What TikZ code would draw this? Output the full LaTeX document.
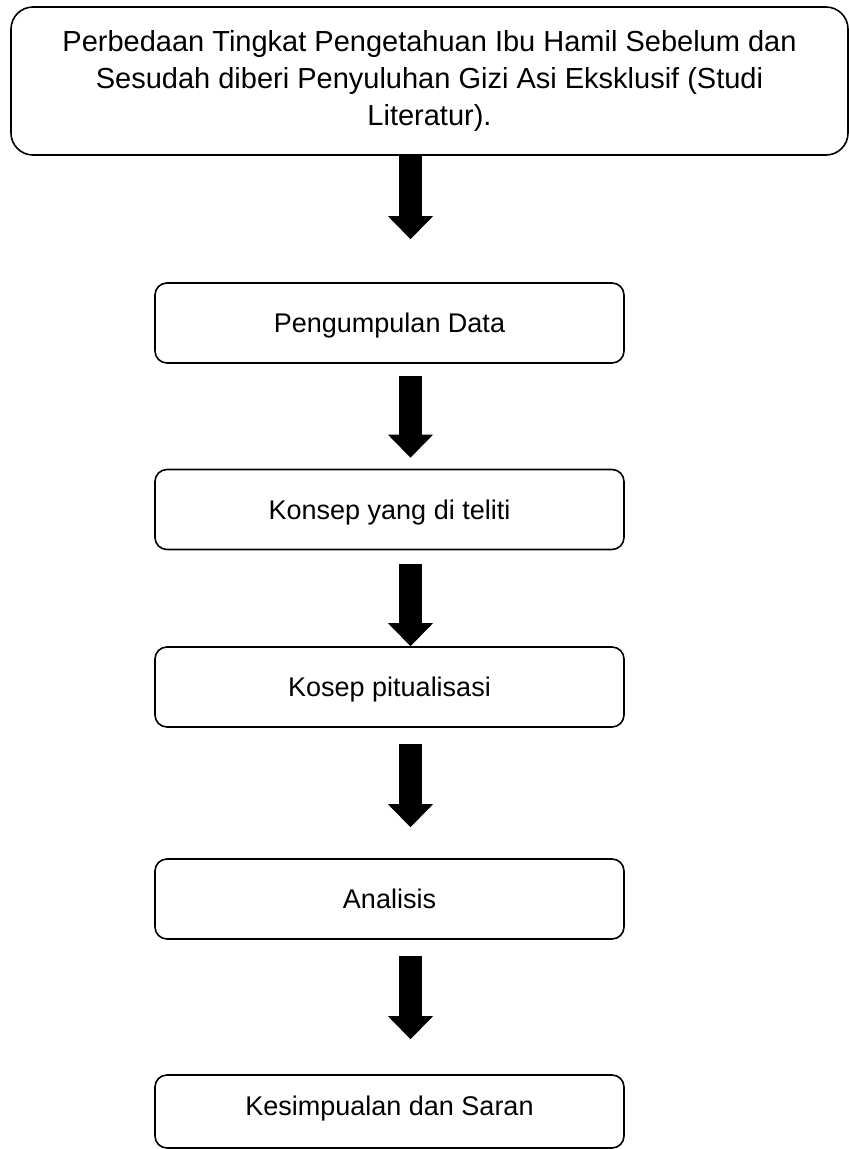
\documentclass[tikz,border=0pt]{standalone}
\usepackage{fontspec}
\setmainfont{Liberation Sans}
\usetikzlibrary{arrows.meta}

\begin{document}
\begin{tikzpicture}[
		stepbox/.style={draw, line width=1.6pt, rounded corners=12pt, minimum width=469pt, minimum height=80pt, font=\fontsize{27}{32}\selectfont, text height=25.6pt, text depth=6.3pt},
		titlebox/.style={draw, line width=1.6pt, rounded corners=22pt, minimum width=837pt, minimum height=148pt, align=center, font=\fontsize{29}{37}\selectfont},
		blockarrow/.style={line width=23pt, -{Triangle[width=45pt, length=23pt, line width=0pt]}},
	]
		\useasboundingbox (0,0) rectangle (849pt,-1149pt);
		
		\node (judul) [titlebox] at (429.5pt,-81pt) {Perbedaan Tingkat Pengetahuan Ibu Hamil Sebelum dan\\Sesudah diberi Penyuluhan Gizi Asi Eksklusif (Studi\\Literatur).};
		\node (data) [stepbox] at (389.5pt,-323pt) {Pengumpulan Data};
		\node (konsep) [stepbox] at (389.5pt,-509.5pt) {Konsep yang di teliti};
		\node (kosep) [stepbox] at (389.5pt,-687pt) {Kosep pitualisasi};
		\node (analisis) [stepbox] at (389.5pt,-899pt) {Analisis};
		\node (simpul) [stepbox, minimum height=73pt, text depth=17.3pt] at (389.5pt,-1111.5pt) {Kesimpualan dan Saran};
		
		\draw[blockarrow] ([xshift=-19pt]judul.south) -- ([xshift=21pt, yshift=43pt]data.north);
		\draw[blockarrow] ([xshift=21pt, yshift=-12pt]data.south) -- ([xshift=21pt, yshift=11pt]konsep.north);
		\draw[blockarrow] ([xshift=21pt, yshift=-14pt]konsep.south) -- ([xshift=21pt]kosep.north);
		\draw[blockarrow] ([xshift=21pt, yshift=-16pt]kosep.south) -- ([xshift=21pt, yshift=31pt]analisis.north);
		\draw[blockarrow] ([xshift=21pt, yshift=-16pt]analisis.south) -- ([xshift=21pt, yshift=35pt]simpul.north);
	\end{tikzpicture}
\end{document}
